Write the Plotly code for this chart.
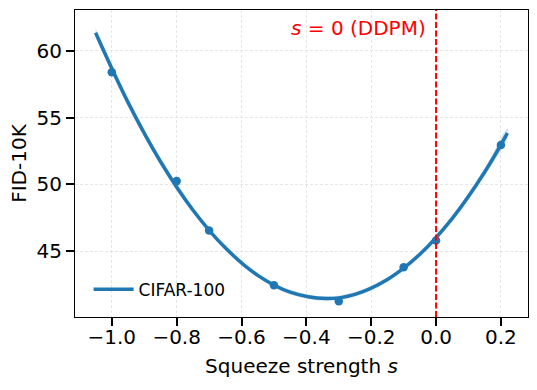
import plotly.graph_objects as go

BLUE = "#1f77b4"
FONT = "DejaVu Sans"

# measured points
strength = [-1.0, -0.8, -0.7, -0.5, -0.3, -0.1, 0.0, 0.2]
fid = [58.4, 50.25, 46.55, 42.45, 41.25, 43.8, 45.8, 52.95]

# fitted curve
fit_x = [-1.05, -0.95, -0.85, -0.75, -0.65, -0.55, -0.45, -0.34, -0.25, -0.15, -0.05, 0.05, 0.15, 0.22]
fit_y = [61.36, 56.15, 51.72, 48.09, 45.25, 43.19, 41.93, 41.45, 41.77, 42.88, 44.77, 47.46, 50.93, 53.84]
band = [0.35, 0.3, 0.25, 0.2, 0.18, 0.17, 0.17, 0.17, 0.17, 0.17, 0.18, 0.2, 0.28, 0.35]

fig = go.Figure()
fig.add_trace(go.Scatter(x=fit_x + fit_x[::-1],
                         y=[y + b for y, b in zip(fit_y, band)] + [y - b for y, b in zip(fit_y, band)][::-1],
                         fill="toself", fillcolor="rgba(31,119,180,0.2)", line=dict(width=0, shape="spline"),
                         mode="lines", showlegend=False, hoverinfo="skip"))
fig.add_trace(go.Scatter(x=strength, y=fid, mode="markers",
                         marker=dict(color=BLUE, size=8.5), showlegend=False))
fig.add_trace(go.Scatter(x=fit_x, y=fit_y, mode="lines", name="CIFAR-100",
                         line=dict(color=BLUE, width=3.5, shape="spline")))

# s = 0 reference
fig.add_vline(x=0, line=dict(color="red", width=2, dash="6px,2.5px"))
fig.add_annotation(x=-0.025, y=61.7, xref="x", yref="y", text="<i>s</i> = 0 (DDPM)",
                   showarrow=False, xanchor="right", yanchor="middle",
                   font=dict(color="red", size=20, family=FONT))

axis = dict(showline=True, linecolor="black", linewidth=1.2, mirror=True, automargin=False,
            ticks="outside", ticklen=8, tickwidth=1.5, tickcolor="black",
            showgrid=True, gridcolor="#e6e6e6", gridwidth=0.8, griddash="3px,2px",
            zeroline=False, tickfont=dict(size=20, family=FONT, color="black"))

fig.update_layout(
    width=537, height=390, template="plotly_white",
    plot_bgcolor="white", paper_bgcolor="white",
    margin=dict(l=75, r=9, t=10, b=73),
    font=dict(family=FONT, color="black"),
    xaxis=dict(axis, range=[-1.1135, 0.2835], tickvals=[-1.0, -0.8, -0.6, -0.4, -0.2, 0.0, 0.2],
               tickformat=".1f", ticklabelstandoff=-6,
               title=dict(text="Squeeze strength <i>s</i>", font=dict(size=20, family=FONT), standoff=10)),
    yaxis=dict(axis, range=[40.07, 63.07], tickvals=[45, 50, 55, 60],
               title=dict(text="FID-10K", font=dict(size=20, family=FONT), standoff=4)),
    legend=dict(x=0.03, y=0.03, xanchor="left", yanchor="bottom", bgcolor="rgba(0,0,0,0)",
                itemwidth=40, font=dict(size=17, family=FONT)),
)

fig.write_html("out.html", config={"displayModeBar": False},
               post_script="document.body.style.margin = '0';")
